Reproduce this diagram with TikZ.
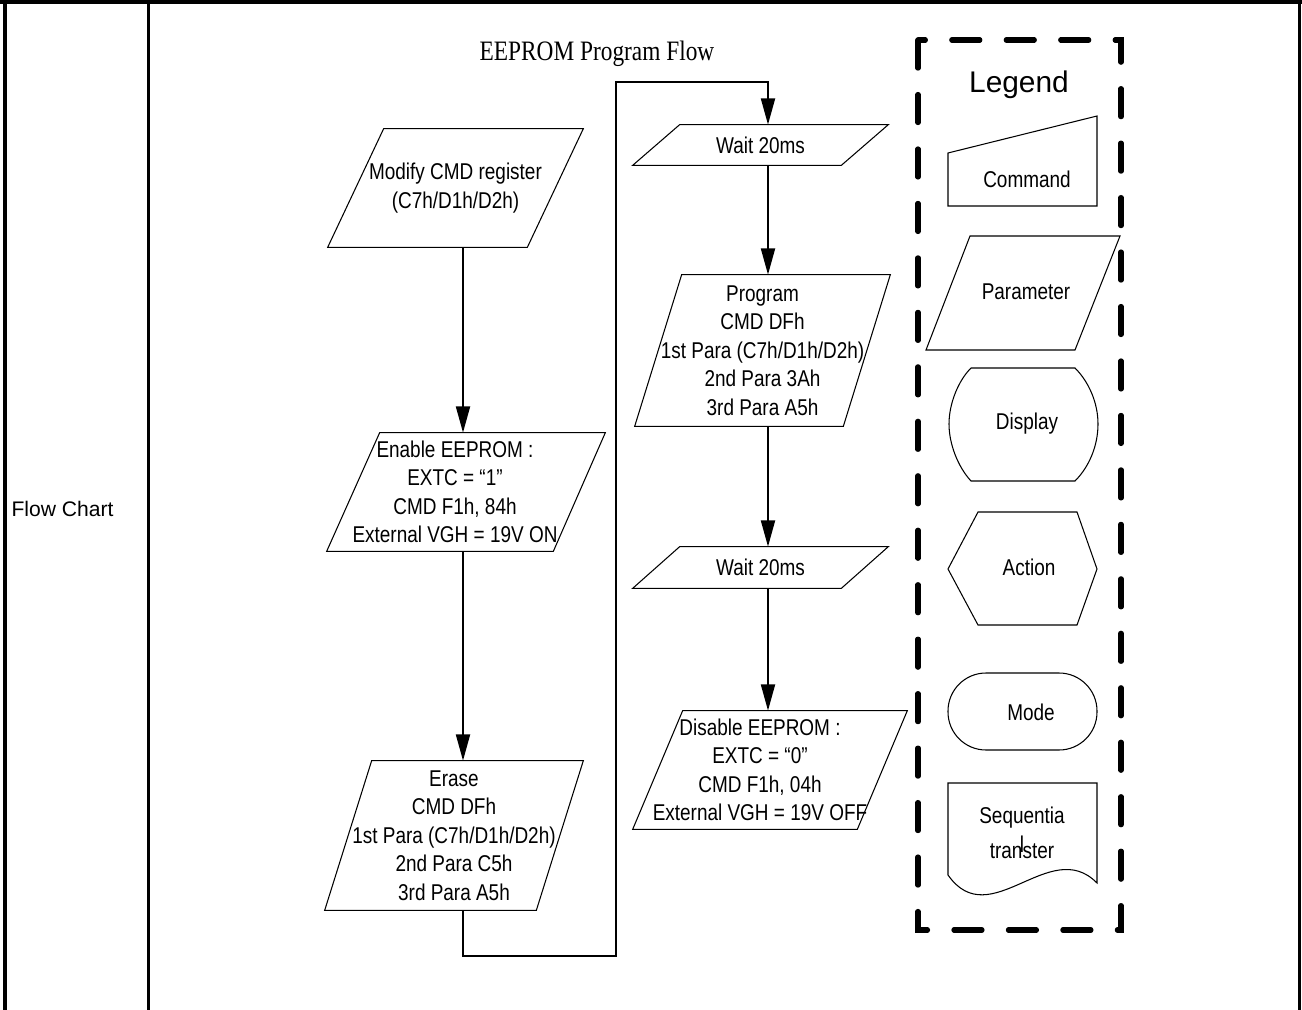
\documentclass[tikz,border=0pt]{standalone}
\usepackage{fontspec}
\setmainfont{Liberation Sans}
\newfontfamily\narrowfont{Liberation Sans}[FakeStretch=0.83]
\newfontfamily\titlefont{Liberation Serif}[FakeStretch=0.83]
\usetikzlibrary{arrows.meta}

\begin{document}
\begin{tikzpicture}[x=0.02cm, y=-0.02cm,
		txt/.style={font=\narrowfont\fontsize{13}{16.2}\selectfont, align=center, inner sep=0pt},
		slantbox/.style={txt, minimum height=2.36cm},
		outline/.style={line width=0.6pt},
		flow/.style={line width=1.1pt, -{Triangle[length=15pt,width=8pt]}},
		frame/.style={line width=1.8pt}]
	\useasboundingbox (0,0) rectangle (1302,1010);
	
	% Table frame
	\draw[frame] (0,2) -- (1302,2);
	\draw[line width=2.3pt] (5,0) -- (5,1010);
	\draw[frame] (148.5,2) -- (148.5,1010);
	\draw[frame] (1299.5,2) -- (1299.5,1010);
	\node[font=\fontsize{12}{14}\selectfont] (rowname) at (62.5,509) {Flow Chart};
	
	% Title
	\node[font=\titlefont\fontsize{16}{18}\selectfont] (title) at (597,54) {EEPROM Program Flow};
	
	% Left column
	\node[slantbox, minimum width=5.10cm] (modify) at (455.5,188) {Modify CMD register\\(C7h/D1h/D2h)};
	\node[slantbox, minimum width=6.0cm] (enable) at (455,492) {Enable EEPROM :\\EXTC = “1”\\CMD F1h, 84h\\External VGH = 19V ON};
	\node[slantbox, minimum width=5.16cm, minimum height=2.98cm] (erase) at (454,835.5) {Erase\\CMD DFh\\1st Para (C7h/D1h/D2h)\\2nd Para C5h\\3rd Para A5h};
	
	% Right column
	\node[slantbox, minimum width=5.10cm, minimum height=0.8cm] (wait1) at (760.5,145) {Wait 20ms};
	\node[slantbox, minimum width=5.10cm, minimum height=3.02cm] (program) at (762.5,350.5) {Program\\CMD DFh\\1st Para (C7h/D1h/D2h)\\2nd Para 3Ah\\3rd Para A5h};
	\node[slantbox, minimum width=5.10cm, minimum height=0.82cm] (wait2) at (760.5,567.5) {Wait 20ms};
	\node[slantbox, minimum width=5.88cm] (disable) at (760,770) {Disable EEPROM :\\EXTC = “0”\\CMD F1h, 04h\\External VGH = 19V OFF};
	
	% Parallelogram outlines (corner insets: top left, top right, bottom right, bottom left)
	\foreach \n/\a/\b/\c/\d in {modify/1.12cm/0cm/1.12cm/0cm, enable/1.5cm/0cm/1.04cm/0.44cm,
		erase/0.94cm/0cm/0.94cm/0cm, wait1/0.94cm/0cm/0.94cm/0cm, program/0.94cm/0cm/0.94cm/0cm,
		wait2/0.94cm/0cm/0.94cm/0cm, disable/1.4cm/0cm/1.0cm/0.4cm}{
		\draw[outline] ([xshift=\a]\n.north west) -- ([xshift=-\b]\n.north east) -- ([xshift=-\c]\n.south east) -- ([xshift=\d]\n.south west) -- cycle;
	}
	
	% Connectors
	\coordinate (colL) at (463,0);
	\coordinate (colR) at (768,0);
	\coordinate (loopLow) at (616,956);
	\coordinate (loopHigh) at (616,82);
	\draw[flow] (modify.south -| colL) -- (enable.north -| colL);
	\draw[flow] (enable.south -| colL) -- (erase.north -| colL);
	\draw[flow] (erase.south -| colL) |- (loopLow) -- (loopHigh) -| (wait1.north -| colR);
	\draw[flow] (wait1.south -| colR) -- (program.north -| colR);
	\draw[flow] (program.south -| colR) -- (wait2.north -| colR);
	\draw[flow] (wait2.south -| colR) -- (disable.north -| colR);
	
	% Legend
	\draw[line width=2.9pt, dash pattern=on 16pt off 15pt, line cap=round] (918,40) rectangle (1121,930);
	\node[font=\fontsize{17}{20}\selectfont] (legend) at (1019,85) {Legend};
	
	\draw[outline] (948,153) -- (1097,116) -- (1097,206) -- (948,206) -- cycle;
	\node[txt] (cmdkey) at (1027,179) {Command};
	
	\draw[outline] (970,236) -- (1120,236) -- (1075,350) -- (926,350) -- cycle;
	\node[txt] (parakey) at (1026,292) {Parameter};
	
	\draw[outline] (971,368) -- (1075,368) .. controls (1089,382) and (1098,403) .. (1098,424)
		.. controls (1098,446) and (1089,467) .. (1075,481) -- (971,481)
		.. controls (958,467) and (949,444) .. (949,424) .. controls (949,404) and (958,381) .. (971,368) -- cycle;
	\node[txt] (dispkey) at (1027,424) {Display};
	
	\draw[outline] (978,512) -- (1077,512) -- (1097,569) -- (1077,625) -- (978,625) -- (948,569) -- cycle;
	\node[txt] (actkey) at (1029,567) {Action};
	
	\draw[outline, rounded corners=0.76cm] (948,673) rectangle (1097,750);
	\node[txt] (modekey) at (1031,712) {Mode};
	
	\draw[outline] (948,875) -- (948,783) -- (1097,783) -- (1097,883) .. controls (1050,835) and (990,935) .. (948,875);
	\node[txt] (seqkey) at (1022,833) {Sequentia\\l\\[-12.6pt]transter};
\end{tikzpicture}
\end{document}
